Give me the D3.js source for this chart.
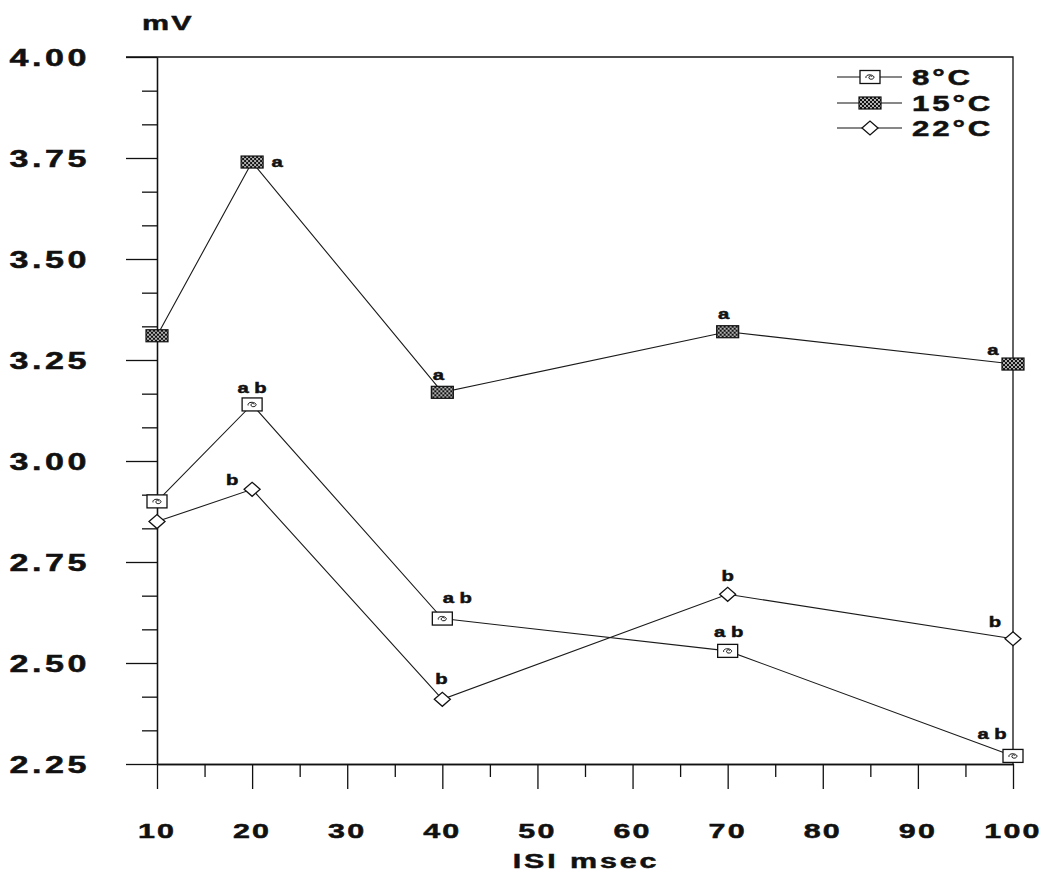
<!DOCTYPE html>
<html>
<head>
<meta charset="utf-8">
<script src="https://cdn.jsdelivr.net/npm/d3@7"></script>
<style>
  html, body { margin: 0; padding: 0; background: #fff; }
  svg { display: block; }
</style>
</head>
<body>
<svg id="chart" width="1045" height="882"></svg>
<script>
// ISI (msec) at which amplitudes were measured
const isi = [10, 20, 40, 70, 100];
// Mean amplitude (mV) per temperature
const t8  = [2.90, 3.14, 2.61, 2.53, 2.27];
const t15 = [3.31, 3.74, 3.17, 3.32, 3.24];
const t22 = [2.85, 2.93, 2.41, 2.67, 2.56];
// Significance letters drawn beside each point
const sig8  = ["", "a b", "a b", "a b", "a b"];
const sig15 = ["", "a", "a", "a", "a"];
const sig22 = ["", "b", "b", "b", "b"];
const seriesNames = ["8°C", "15°C", "22°C"];
// Axis ticks
const xTicks = [10, 20, 30, 40, 50, 60, 70, 80, 90, 100];
const yTicks = [2.25, 2.50, 2.75, 3.00, 3.25, 3.50, 3.75, 4.00];

const svg = d3.select("#chart");
const FONT = "'Liberation Sans', Arial, Helvetica, sans-serif";
const INK = "#111";

const x = d3.scaleLinear().domain([10, 100]).range([157, 1013]);
const y = d3.scaleLinear().domain([2.25, 4.0]).range([764, 57]);

// wide bold lettering: horizontally stretched, slightly heavier text
function wideText(parent, px, py, str, size, anchor, spacing, sx) {
  parent.append("g")
    .attr("transform", `translate(${px},${py}) scale(${sx},1)`)
    .append("text")
    .attr("text-anchor", anchor)
    .attr("font-family", FONT)
    .attr("font-weight", "bold")
    .attr("font-size", size)
    .attr("letter-spacing", spacing)
    .attr("fill", INK)
    .attr("stroke", INK)
    .attr("stroke-width", 0.5)
    .text(str);
}

// fill pattern for the 15°C marker
const defs = svg.append("defs");
const pat = defs.append("pattern").attr("id", "dots")
  .attr("width", 4).attr("height", 4).attr("patternUnits", "userSpaceOnUse");
pat.append("rect").attr("width", 4).attr("height", 4).attr("fill", "#111");
pat.append("circle").attr("cx", 1).attr("cy", 1).attr("r", 0.9).attr("fill", "#fff");
pat.append("circle").attr("cx", 3).attr("cy", 3).attr("r", 0.9).attr("fill", "#fff");

// ---- axes ----
const yMinor = d3.range(2.25, 4.0001, 0.25 / 3).filter(v => !yTicks.some(t => Math.abs(t - v) < 1e-6));
const xMinor = d3.range(15, 100, 10);

svg.append("g").attr("transform", `translate(${x(10)},0)`)
  .call(d3.axisLeft(y).tickValues(yTicks).tickSize(31).tickSizeOuter(0).tickFormat(""));
svg.append("g").attr("transform", `translate(${x(10)},0)`)
  .call(d3.axisLeft(y).tickValues(yMinor).tickSize(15).tickSizeOuter(0).tickFormat(""));
svg.append("g").attr("transform", `translate(0,${y(2.25)})`)
  .call(d3.axisBottom(x).tickValues(xTicks).tickSize(25).tickSizeOuter(0).tickFormat(""));
svg.append("g").attr("transform", `translate(0,${y(2.25)})`)
  .call(d3.axisBottom(x).tickValues(xMinor).tickSize(13).tickSizeOuter(0).tickFormat(""));
svg.selectAll(".domain").attr("stroke", INK).attr("stroke-width", 1.3);
svg.selectAll(".tick line").attr("stroke", INK).attr("stroke-width", 1.3);

// top and right frame
svg.append("path")
  .attr("d", `M${x(10) - 31},${y(4)} H${x(100)} V${y(2.25)}`)
  .attr("fill", "none").attr("stroke", INK).attr("stroke-width", 1.3);

// tick labels
yTicks.forEach(v => wideText(svg, 90, y(v) + 9, v.toFixed(2), 24, "end", 2.5, 1.42));
xTicks.forEach(v => wideText(svg, x(v), 838, String(v), 21, "middle", 1.5, 1.45));

// axis titles
wideText(svg, 142, 30, "mV", 21, "start", 1.5, 1.45);
wideText(svg, 586, 868, "ISI  msec", 21, "middle", 2, 1.45);

// ---- markers ----
function marker8(g) {
  g.append("rect").attr("x", -10).attr("y", -6.5).attr("width", 20).attr("height", 13)
    .attr("fill", "#fff").attr("stroke", INK).attr("stroke-width", 1.3);
  g.append("path")
    .attr("d", "M-4,1 C-5,-3 3,-3 4,0 C4,3 -2,3 -1,0 C0,-2 2,-1 2,0")
    .attr("fill", "none").attr("stroke", INK).attr("stroke-width", 1);
}
function marker15(g) {
  g.append("rect").attr("x", -11).attr("y", -6).attr("width", 22).attr("height", 12)
    .attr("fill", "url(#dots)").attr("stroke", INK).attr("stroke-width", 1.2);
}
function marker22(g) {
  g.append("path").attr("d", "M-8,0 L0,-7 L8,0 L0,7 Z")
    .attr("fill", "#fff").attr("stroke", INK).attr("stroke-width", 1.3);
}

// label placement (dx, dy from point to label baseline)
const place8  = [null, [0, -11], [15, -16], [1, -14], [-21, -17]];
const place15 = [null, [25, 5], [-4, -12], [-4, -13], [-20, -9]];
const place22 = [null, [-20, -4], [-1, -15], [0, -13], [-18, -12]];

const series = [
  { name: seriesNames[0], values: t8,  sig: sig8,  place: place8,  mark: marker8 },
  { name: seriesNames[1], values: t15, sig: sig15, place: place15, mark: marker15 },
  { name: seriesNames[2], values: t22, sig: sig22, place: place22, mark: marker22 }
];

const line = d3.line().x(d => x(d[0])).y(d => y(d[1]));

series.forEach(s => {
  const pts = isi.map((v, i) => [v, s.values[i]]);
  svg.append("path").datum(pts).attr("d", line)
    .attr("fill", "none").attr("stroke", "#1a1a1a").attr("stroke-width", 1.1);
});

series.forEach(s => {
  isi.forEach((v, i) => {
    const g = svg.append("g").attr("transform", `translate(${x(v)},${y(s.values[i])})`);
    s.mark(g);
    if (s.sig[i]) {
      const [dx, dy] = s.place[i];
      wideText(svg, x(v) + dx, y(s.values[i]) + dy, s.sig[i], 15, "middle", 0, 1.35);
    }
  });
});

// ---- legend ----
const legendY = [77, 103, 128];
series.forEach((s, i) => {
  const ly = legendY[i];
  svg.append("line").attr("x1", 837).attr("x2", 902).attr("y1", ly).attr("y2", ly)
    .attr("stroke", INK).attr("stroke-width", 1.1);
  const g = svg.append("g").attr("transform", `translate(870,${ly})`);
  s.mark(g);
  wideText(svg, 912, ly + 8, s.name, 22, "start", 2, 1.42);
});
</script>
</body>
</html>
